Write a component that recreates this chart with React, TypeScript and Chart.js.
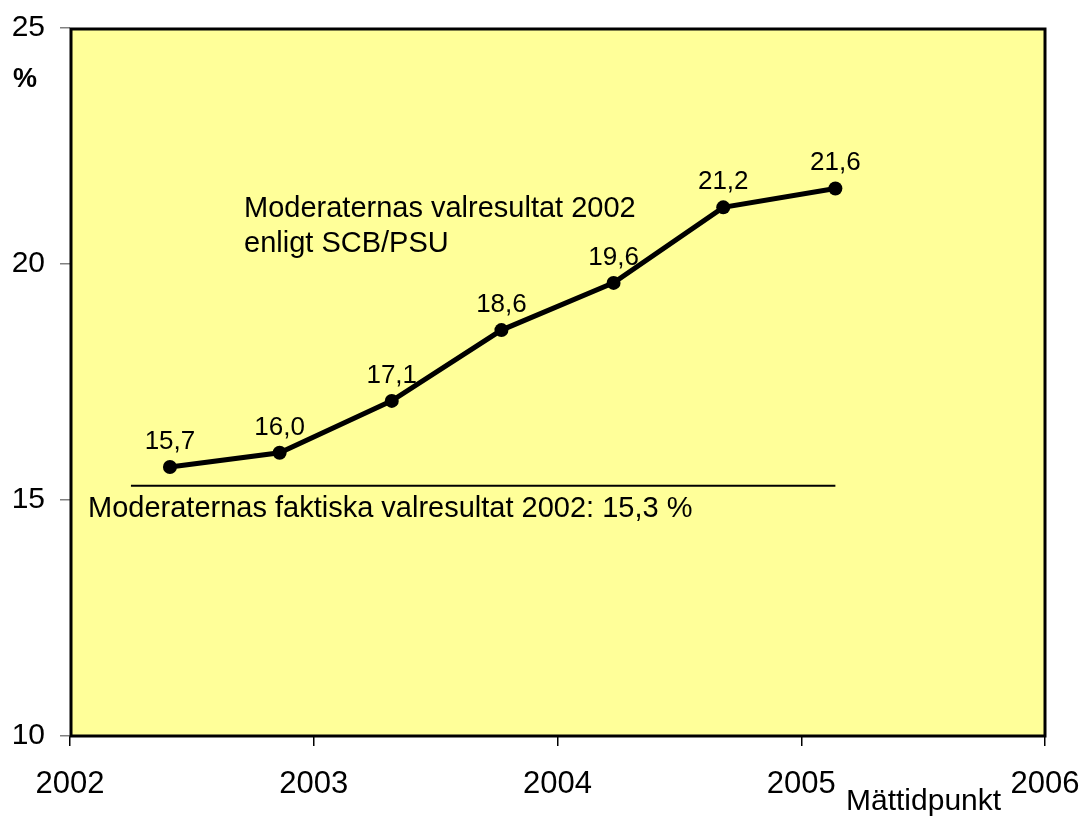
import React, { useEffect, useRef } from "react";
import { Chart, registerables } from "chart.js";

Chart.register(...registerables);

const measureTimes = [2002.41, 2002.86, 2003.32, 2003.77, 2004.23, 2004.68, 2005.14];
const pollValues = [15.7, 16.0, 17.1, 18.6, 19.6, 21.2, 21.6];
const pollLabels = ["15,7", "16,0", "17,1", "18,6", "19,6", "21,2", "21,6"];
const electionLineX = [2002.25, 2005.14];
const electionValue = 15.3;
const xTicks = [2002, 2003, 2004, 2005, 2006];
const yTicks = [10, 15, 20, 25];

const FONT = "Arial, 'Liberation Sans', sans-serif";

export default function App() {
  const ref = useRef<HTMLCanvasElement | null>(null);

  useEffect(() => {
    if (!ref.current) return;

    const bgPlugin = {
      id: "bgPlugin",
      beforeDraw(chart: any) {
        const { ctx, chartArea: a } = chart;
        ctx.save();
        ctx.fillStyle = "#FFFF99";
        ctx.fillRect(a.left, a.top, a.right - a.left, a.bottom - a.top);
        ctx.restore();
      },
      afterDatasetsDraw(chart: any) {
        const { ctx, chartArea: a } = chart;
        ctx.save();
        ctx.strokeStyle = "#000";
        ctx.lineWidth = 3;
        ctx.strokeRect(a.left + 1, a.top + 1, a.right - a.left - 1, a.bottom - a.top - 1);

        // data labels
        const meta = chart.getDatasetMeta(0);
        ctx.fillStyle = "#000";
        ctx.font = `26px ${FONT}`;
        ctx.textAlign = "center";
        ctx.textBaseline = "alphabetic";
        meta.data.forEach((pt: any, i: number) => {
          ctx.fillText(pollLabels[i], pt.x, pt.y - 18);
        });

        // annotations
        ctx.font = `29px ${FONT}`;
        ctx.textAlign = "left";
        ctx.fillText("Moderaternas valresultat 2002", 244, 217);
        ctx.fillText("enligt SCB/PSU", 244, 252);
        ctx.fillText("Moderaternas faktiska valresultat 2002: 15,3 %", 88, 517);

        // axis titles
        ctx.font = `bold 27px ${FONT}`;
        ctx.textAlign = "center";
        ctx.fillText("%", 25, 87);
        ctx.font = `30px ${FONT}`;
        ctx.textAlign = "left";
        ctx.fillText("Mättidpunkt", 846, 810);
        ctx.restore();
      },
    };

    const zeroPad = (s: any) => {
      s.paddingTop = 0;
      s.paddingBottom = 0;
      s.paddingLeft = 0;
      s.paddingRight = 0;
    };

    const chart = new Chart(ref.current, {
      type: "scatter",
      data: {
        datasets: [
          {
            data: measureTimes.map((x, i) => ({ x, y: pollValues[i] })),
            showLine: true,
            borderColor: "#000",
            backgroundColor: "#000",
            borderWidth: 5,
            pointRadius: 7,
            pointBackgroundColor: "#000",
            pointBorderWidth: 0,
          },
          {
            data: electionLineX.map((x) => ({ x, y: electionValue })),
            showLine: true,
            borderColor: "#000",
            borderWidth: 2,
            pointRadius: 0,
          },
        ],
      },
      options: {
        animation: false,
        responsive: false,
        maintainAspectRatio: false,
        layout: { padding: { top: 28, right: 40, left: 0, bottom: 0 } },
        plugins: {
          legend: { display: false },
          tooltip: { enabled: false },
        },
        scales: {
          x: {
            type: "linear",
            min: xTicks[0],
            max: xTicks[xTicks.length - 1],
            afterBuildTicks: (s: any) => {
              s.ticks = xTicks.map((v) => ({ value: v }));
            },
            afterFit: (s: any) => {
              s.height = 82;
              zeroPad(s);
            },
            grid: {
              drawOnChartArea: false,
              drawTicks: true,
              tickLength: 10,
              color: "#000",
              lineWidth: 1.5,
            },
            border: { display: false },
            ticks: {
              color: "#000",
              font: { size: 31, family: FONT },
              padding: 20,
              maxRotation: 0,
              autoSkip: false,
              callback: (v: any) => String(v),
            },
          },
          y: {
            type: "linear",
            min: yTicks[0],
            max: yTicks[yTicks.length - 1],
            afterBuildTicks: (s: any) => {
              s.ticks = yTicks.map((v) => ({ value: v }));
            },
            afterFit: (s: any) => {
              s.width = 70;
              zeroPad(s);
            },
            grid: {
              drawOnChartArea: false,
              drawTicks: true,
              tickLength: 10,
              color: "#808080",
              lineWidth: 1.5,
            },
            border: { display: false },
            ticks: {
              color: "#000",
              font: { size: 30, family: FONT },
              padding: 15,
              callback: (v: any) => String(v),
            },
          },
        },
      },
      plugins: [bgPlugin],
    } as any);

    return () => chart.destroy();
  }, []);

  return (
    <div style={{ position: "fixed", left: 0, top: 0, width: 1085, height: 818, background: "#fff" }}>
      <canvas ref={ref} width={1085} height={818} style={{ width: 1085, height: 818 }} />
    </div>
  );
}
